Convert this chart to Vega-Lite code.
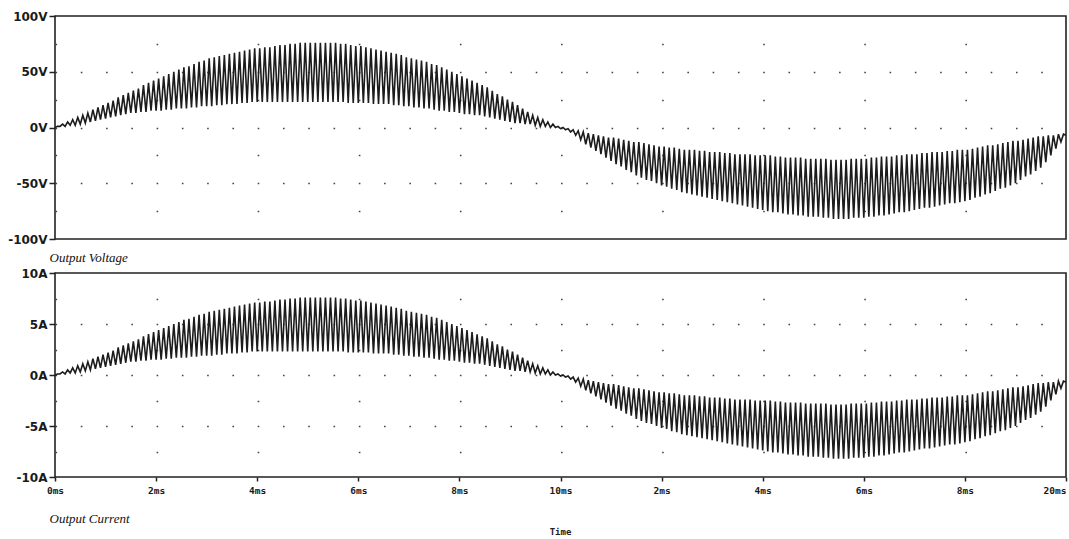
{
  "$schema": "https://vega.github.io/schema/vega-lite/v6.json",
  "background": "white",
  "padding": {"left": 6, "top": 9, "right": 2, "bottom": 0},
  "spacing": 1,
  "config": {
    "view": {"stroke": "#222", "strokeWidth": 1.6},
    "axis": {
      "labelFont": "DejaVu Sans",
      "labelFontWeight": "bold",
      "labelColor": "#1a1a1a",
      "tickColor": "#222",
      "tickWidth": 1.5
    }
  },
  "data": {"values": [
    {"t":0,"v":0,"i":0},{"t":0.05,"v":1,"i":0.1},{"t":0.1,"v":1,"i":0.1},{"t":0.15,"v":3,"i":0.3},{"t":0.2,"v":1,"i":0.1},{"t":0.25,"v":5,"i":0.5},{"t":0.3,"v":2,"i":0.2},{"t":0.35,"v":7,"i":0.7},{"t":0.4,"v":2,"i":0.2},{"t":0.45,"v":9,"i":0.9},
    {"t":0.5,"v":3,"i":0.3},{"t":0.55,"v":11,"i":1.1},{"t":0.6,"v":4,"i":0.4},{"t":0.65,"v":13,"i":1.3},{"t":0.7,"v":5,"i":0.5},{"t":0.75,"v":16,"i":1.6},{"t":0.8,"v":6,"i":0.6},{"t":0.85,"v":18,"i":1.8},{"t":0.9,"v":7,"i":0.7},{"t":0.95,"v":20,"i":2.0},
    {"t":1.0,"v":8,"i":0.8},{"t":1.05,"v":22,"i":2.2},{"t":1.1,"v":9,"i":0.9},{"t":1.15,"v":24,"i":2.4},{"t":1.2,"v":10,"i":1.0},{"t":1.25,"v":27,"i":2.7},{"t":1.3,"v":11,"i":1.1},{"t":1.35,"v":29,"i":2.9},{"t":1.4,"v":12,"i":1.2},{"t":1.45,"v":31,"i":3.1},
    {"t":1.5,"v":13,"i":1.3},{"t":1.55,"v":33,"i":3.3},{"t":1.6,"v":13,"i":1.3},{"t":1.65,"v":35,"i":3.5},{"t":1.7,"v":14,"i":1.4},{"t":1.75,"v":38,"i":3.8},{"t":1.8,"v":14,"i":1.4},{"t":1.85,"v":40,"i":4.0},{"t":1.9,"v":15,"i":1.5},{"t":1.95,"v":42,"i":4.2},
    {"t":2.0,"v":15,"i":1.5},{"t":2.05,"v":44,"i":4.4},{"t":2.1,"v":15,"i":1.5},{"t":2.15,"v":46,"i":4.6},{"t":2.2,"v":16,"i":1.6},{"t":2.25,"v":48,"i":4.8},{"t":2.3,"v":16,"i":1.6},{"t":2.35,"v":50,"i":5.0},{"t":2.4,"v":17,"i":1.7},{"t":2.45,"v":52,"i":5.2},
    {"t":2.5,"v":17,"i":1.7},{"t":2.55,"v":54,"i":5.4},{"t":2.6,"v":17,"i":1.7},{"t":2.65,"v":55,"i":5.5},{"t":2.7,"v":18,"i":1.8},{"t":2.75,"v":57,"i":5.7},{"t":2.8,"v":18,"i":1.8},{"t":2.85,"v":59,"i":5.9},{"t":2.9,"v":19,"i":1.9},{"t":2.95,"v":60,"i":6.0},
    {"t":3.0,"v":19,"i":1.9},{"t":3.05,"v":62,"i":6.2},{"t":3.1,"v":19,"i":1.9},{"t":3.15,"v":63,"i":6.3},{"t":3.2,"v":20,"i":2.0},{"t":3.25,"v":64,"i":6.4},{"t":3.3,"v":20,"i":2.0},{"t":3.35,"v":65,"i":6.5},{"t":3.4,"v":21,"i":2.1},{"t":3.45,"v":66,"i":6.6},
    {"t":3.5,"v":21,"i":2.1},{"t":3.55,"v":67,"i":6.7},{"t":3.6,"v":21,"i":2.1},{"t":3.65,"v":68,"i":6.8},{"t":3.7,"v":22,"i":2.2},{"t":3.75,"v":69,"i":6.9},{"t":3.8,"v":22,"i":2.2},{"t":3.85,"v":70,"i":7.0},{"t":3.9,"v":23,"i":2.3},{"t":3.95,"v":71,"i":7.1},
    {"t":4.0,"v":23,"i":2.3},{"t":4.05,"v":71,"i":7.1},{"t":4.1,"v":23,"i":2.3},{"t":4.15,"v":72,"i":7.2},{"t":4.2,"v":23,"i":2.3},{"t":4.25,"v":72,"i":7.2},{"t":4.3,"v":23,"i":2.3},{"t":4.35,"v":73,"i":7.3},{"t":4.4,"v":23,"i":2.3},{"t":4.45,"v":74,"i":7.4},
    {"t":4.5,"v":23,"i":2.3},{"t":4.55,"v":74,"i":7.4},{"t":4.6,"v":23,"i":2.3},{"t":4.65,"v":75,"i":7.5},{"t":4.7,"v":23,"i":2.3},{"t":4.75,"v":75,"i":7.5},{"t":4.8,"v":23,"i":2.3},{"t":4.85,"v":76,"i":7.6},{"t":4.9,"v":23,"i":2.3},{"t":4.95,"v":76,"i":7.6},
    {"t":5.0,"v":23,"i":2.3},{"t":5.05,"v":76,"i":7.6},{"t":5.1,"v":23,"i":2.3},{"t":5.15,"v":76,"i":7.6},{"t":5.2,"v":23,"i":2.3},{"t":5.25,"v":76,"i":7.6},{"t":5.3,"v":23,"i":2.3},{"t":5.35,"v":76,"i":7.6},{"t":5.4,"v":23,"i":2.3},{"t":5.45,"v":76,"i":7.6},
    {"t":5.5,"v":23,"i":2.3},{"t":5.55,"v":76,"i":7.6},{"t":5.6,"v":23,"i":2.3},{"t":5.65,"v":75,"i":7.5},{"t":5.7,"v":23,"i":2.3},{"t":5.75,"v":75,"i":7.5},{"t":5.8,"v":22,"i":2.2},{"t":5.85,"v":74,"i":7.4},{"t":5.9,"v":22,"i":2.2},{"t":5.95,"v":73,"i":7.3},
    {"t":6.0,"v":22,"i":2.2},{"t":6.05,"v":73,"i":7.3},{"t":6.1,"v":22,"i":2.2},{"t":6.15,"v":72,"i":7.2},{"t":6.2,"v":22,"i":2.2},{"t":6.25,"v":71,"i":7.1},{"t":6.3,"v":21,"i":2.1},{"t":6.35,"v":70,"i":7.0},{"t":6.4,"v":21,"i":2.1},{"t":6.45,"v":69,"i":6.9},
    {"t":6.5,"v":21,"i":2.1},{"t":6.55,"v":68,"i":6.8},{"t":6.6,"v":21,"i":2.1},{"t":6.65,"v":67,"i":6.7},{"t":6.7,"v":20,"i":2.0},{"t":6.75,"v":66,"i":6.6},{"t":6.8,"v":20,"i":2.0},{"t":6.85,"v":65,"i":6.5},{"t":6.9,"v":19,"i":1.9},{"t":6.95,"v":63,"i":6.3},
    {"t":7.0,"v":19,"i":1.9},{"t":7.05,"v":62,"i":6.2},{"t":7.1,"v":18,"i":1.8},{"t":7.15,"v":61,"i":6.1},{"t":7.2,"v":18,"i":1.8},{"t":7.25,"v":60,"i":6.0},{"t":7.3,"v":17,"i":1.7},{"t":7.35,"v":59,"i":5.9},{"t":7.4,"v":17,"i":1.7},{"t":7.45,"v":57,"i":5.7},
    {"t":7.5,"v":16,"i":1.6},{"t":7.55,"v":56,"i":5.6},{"t":7.6,"v":15,"i":1.5},{"t":7.65,"v":54,"i":5.4},{"t":7.7,"v":15,"i":1.5},{"t":7.75,"v":52,"i":5.2},{"t":7.8,"v":14,"i":1.4},{"t":7.85,"v":50,"i":5.0},{"t":7.9,"v":14,"i":1.4},{"t":7.95,"v":48,"i":4.8},
    {"t":8.0,"v":13,"i":1.3},{"t":8.05,"v":46,"i":4.6},{"t":8.1,"v":12,"i":1.2},{"t":8.15,"v":44,"i":4.4},{"t":8.2,"v":12,"i":1.2},{"t":8.25,"v":42,"i":4.2},{"t":8.3,"v":11,"i":1.1},{"t":8.35,"v":40,"i":4.0},{"t":8.4,"v":11,"i":1.1},{"t":8.45,"v":38,"i":3.8},
    {"t":8.5,"v":10,"i":1.0},{"t":8.55,"v":36,"i":3.6},{"t":8.6,"v":9,"i":0.9},{"t":8.65,"v":33,"i":3.3},{"t":8.7,"v":8,"i":0.8},{"t":8.75,"v":30,"i":3.0},{"t":8.8,"v":7,"i":0.7},{"t":8.85,"v":28,"i":2.8},{"t":8.9,"v":6,"i":0.6},{"t":8.95,"v":25,"i":2.5},
    {"t":9.0,"v":5,"i":0.5},{"t":9.05,"v":23,"i":2.3},{"t":9.1,"v":4,"i":0.4},{"t":9.15,"v":20,"i":2.0},{"t":9.2,"v":4,"i":0.4},{"t":9.25,"v":17,"i":1.7},{"t":9.3,"v":3,"i":0.3},{"t":9.35,"v":14,"i":1.4},{"t":9.4,"v":3,"i":0.3},{"t":9.45,"v":11,"i":1.1},
    {"t":9.5,"v":2,"i":0.2},{"t":9.55,"v":9,"i":0.9},{"t":9.6,"v":1,"i":0.1},{"t":9.65,"v":7,"i":0.7},{"t":9.7,"v":1,"i":0.1},{"t":9.75,"v":5,"i":0.5},{"t":9.8,"v":0,"i":0.0},{"t":9.85,"v":3,"i":0.3},{"t":9.9,"v":0,"i":0.0},{"t":9.95,"v":1,"i":0.1},
    {"t":10.0,"v":-1,"i":-0.1},{"t":10.05,"v":0,"i":0.0},{"t":10.1,"v":-2,"i":-0.2},{"t":10.15,"v":-1,"i":-0.1},{"t":10.2,"v":-4,"i":-0.4},{"t":10.25,"v":-2,"i":-0.2},{"t":10.3,"v":-7,"i":-0.7},{"t":10.35,"v":-3,"i":-0.3},{"t":10.4,"v":-11,"i":-1.1},{"t":10.45,"v":-4,"i":-0.4},
    {"t":10.5,"v":-15,"i":-1.5},{"t":10.55,"v":-5,"i":-0.5},{"t":10.6,"v":-18,"i":-1.8},{"t":10.65,"v":-6,"i":-0.6},{"t":10.7,"v":-21,"i":-2.1},{"t":10.75,"v":-7,"i":-0.7},{"t":10.8,"v":-24,"i":-2.4},{"t":10.85,"v":-8,"i":-0.8},{"t":10.9,"v":-27,"i":-2.7},{"t":10.95,"v":-9,"i":-0.9},
    {"t":11.0,"v":-30,"i":-3.0},{"t":11.05,"v":-9,"i":-0.9},{"t":11.1,"v":-33,"i":-3.3},{"t":11.15,"v":-10,"i":-1.0},{"t":11.2,"v":-35,"i":-3.5},{"t":11.25,"v":-11,"i":-1.1},{"t":11.3,"v":-38,"i":-3.8},{"t":11.35,"v":-12,"i":-1.2},{"t":11.4,"v":-40,"i":-4.0},{"t":11.45,"v":-13,"i":-1.3},
    {"t":11.5,"v":-43,"i":-4.3},{"t":11.55,"v":-13,"i":-1.3},{"t":11.6,"v":-45,"i":-4.5},{"t":11.65,"v":-14,"i":-1.4},{"t":11.7,"v":-47,"i":-4.7},{"t":11.75,"v":-15,"i":-1.5},{"t":11.8,"v":-48,"i":-4.8},{"t":11.85,"v":-16,"i":-1.6},{"t":11.9,"v":-50,"i":-5.0},{"t":11.95,"v":-17,"i":-1.7},
    {"t":12.0,"v":-52,"i":-5.2},{"t":12.05,"v":-17,"i":-1.7},{"t":12.1,"v":-53,"i":-5.3},{"t":12.15,"v":-18,"i":-1.8},{"t":12.2,"v":-55,"i":-5.5},{"t":12.25,"v":-18,"i":-1.8},{"t":12.3,"v":-56,"i":-5.6},{"t":12.35,"v":-19,"i":-1.9},{"t":12.4,"v":-58,"i":-5.8},{"t":12.45,"v":-20,"i":-2.0},
    {"t":12.5,"v":-59,"i":-5.9},{"t":12.55,"v":-20,"i":-2.0},{"t":12.6,"v":-60,"i":-6.0},{"t":12.65,"v":-20,"i":-2.0},{"t":12.7,"v":-61,"i":-6.1},{"t":12.75,"v":-21,"i":-2.1},{"t":12.8,"v":-62,"i":-6.2},{"t":12.85,"v":-21,"i":-2.1},{"t":12.9,"v":-63,"i":-6.3},{"t":12.95,"v":-22,"i":-2.2},
    {"t":13.0,"v":-64,"i":-6.4},{"t":13.05,"v":-22,"i":-2.2},{"t":13.1,"v":-65,"i":-6.5},{"t":13.15,"v":-22,"i":-2.2},{"t":13.2,"v":-66,"i":-6.6},{"t":13.25,"v":-23,"i":-2.3},{"t":13.3,"v":-67,"i":-6.7},{"t":13.35,"v":-23,"i":-2.3},{"t":13.4,"v":-68,"i":-6.8},{"t":13.45,"v":-24,"i":-2.4},
    {"t":13.5,"v":-69,"i":-6.9},{"t":13.55,"v":-24,"i":-2.4},{"t":13.6,"v":-70,"i":-7.0},{"t":13.65,"v":-24,"i":-2.4},{"t":13.7,"v":-71,"i":-7.1},{"t":13.75,"v":-24,"i":-2.4},{"t":13.8,"v":-72,"i":-7.2},{"t":13.85,"v":-25,"i":-2.5},{"t":13.9,"v":-73,"i":-7.3},{"t":13.95,"v":-25,"i":-2.5},
    {"t":14.0,"v":-74,"i":-7.4},{"t":14.05,"v":-25,"i":-2.5},{"t":14.1,"v":-75,"i":-7.5},{"t":14.15,"v":-25,"i":-2.5},{"t":14.2,"v":-76,"i":-7.6},{"t":14.25,"v":-26,"i":-2.6},{"t":14.3,"v":-76,"i":-7.6},{"t":14.35,"v":-26,"i":-2.6},{"t":14.4,"v":-77,"i":-7.7},{"t":14.45,"v":-27,"i":-2.7},
    {"t":14.5,"v":-78,"i":-7.8},{"t":14.55,"v":-27,"i":-2.7},{"t":14.6,"v":-78,"i":-7.8},{"t":14.65,"v":-27,"i":-2.7},{"t":14.7,"v":-79,"i":-7.9},{"t":14.75,"v":-27,"i":-2.7},{"t":14.8,"v":-79,"i":-7.9},{"t":14.85,"v":-28,"i":-2.8},{"t":14.9,"v":-80,"i":-8.0},{"t":14.95,"v":-28,"i":-2.8},
    {"t":15.0,"v":-80,"i":-8.0},{"t":15.05,"v":-28,"i":-2.8},{"t":15.1,"v":-80,"i":-8.0},{"t":15.15,"v":-28,"i":-2.8},{"t":15.2,"v":-81,"i":-8.1},{"t":15.25,"v":-28,"i":-2.8},{"t":15.3,"v":-81,"i":-8.1},{"t":15.35,"v":-29,"i":-2.9},{"t":15.4,"v":-82,"i":-8.2},{"t":15.45,"v":-29,"i":-2.9},
    {"t":15.5,"v":-82,"i":-8.2},{"t":15.55,"v":-29,"i":-2.9},{"t":15.6,"v":-82,"i":-8.2},{"t":15.65,"v":-29,"i":-2.9},{"t":15.7,"v":-82,"i":-8.2},{"t":15.75,"v":-28,"i":-2.8},{"t":15.8,"v":-81,"i":-8.1},{"t":15.85,"v":-28,"i":-2.8},{"t":15.9,"v":-81,"i":-8.1},{"t":15.95,"v":-28,"i":-2.8},
    {"t":16.0,"v":-81,"i":-8.1},{"t":16.05,"v":-28,"i":-2.8},{"t":16.1,"v":-80,"i":-8.0},{"t":16.15,"v":-27,"i":-2.7},{"t":16.2,"v":-80,"i":-8.0},{"t":16.25,"v":-27,"i":-2.7},{"t":16.3,"v":-79,"i":-7.9},{"t":16.35,"v":-26,"i":-2.6},{"t":16.4,"v":-79,"i":-7.9},{"t":16.45,"v":-26,"i":-2.6},
    {"t":16.5,"v":-78,"i":-7.8},{"t":16.55,"v":-26,"i":-2.6},{"t":16.6,"v":-77,"i":-7.7},{"t":16.65,"v":-25,"i":-2.5},{"t":16.7,"v":-76,"i":-7.6},{"t":16.75,"v":-25,"i":-2.5},{"t":16.8,"v":-76,"i":-7.6},{"t":16.85,"v":-24,"i":-2.4},{"t":16.9,"v":-75,"i":-7.5},{"t":16.95,"v":-24,"i":-2.4},
    {"t":17.0,"v":-74,"i":-7.4},{"t":17.05,"v":-24,"i":-2.4},{"t":17.1,"v":-73,"i":-7.3},{"t":17.15,"v":-23,"i":-2.3},{"t":17.2,"v":-72,"i":-7.2},{"t":17.25,"v":-23,"i":-2.3},{"t":17.3,"v":-72,"i":-7.2},{"t":17.35,"v":-22,"i":-2.2},{"t":17.4,"v":-71,"i":-7.1},{"t":17.45,"v":-22,"i":-2.2},
    {"t":17.5,"v":-70,"i":-7.0},{"t":17.55,"v":-22,"i":-2.2},{"t":17.6,"v":-69,"i":-6.9},{"t":17.65,"v":-21,"i":-2.1},{"t":17.7,"v":-68,"i":-6.8},{"t":17.75,"v":-21,"i":-2.1},{"t":17.8,"v":-68,"i":-6.8},{"t":17.85,"v":-20,"i":-2.0},{"t":17.9,"v":-67,"i":-6.7},{"t":17.95,"v":-20,"i":-2.0},
    {"t":18.0,"v":-66,"i":-6.6},{"t":18.05,"v":-20,"i":-2.0},{"t":18.1,"v":-65,"i":-6.5},{"t":18.15,"v":-19,"i":-1.9},{"t":18.2,"v":-63,"i":-6.3},{"t":18.25,"v":-18,"i":-1.8},{"t":18.3,"v":-62,"i":-6.2},{"t":18.35,"v":-17,"i":-1.7},{"t":18.4,"v":-60,"i":-6.0},{"t":18.45,"v":-16,"i":-1.6},
    {"t":18.5,"v":-59,"i":-5.9},{"t":18.55,"v":-16,"i":-1.6},{"t":18.6,"v":-57,"i":-5.7},{"t":18.65,"v":-15,"i":-1.5},{"t":18.7,"v":-55,"i":-5.5},{"t":18.75,"v":-14,"i":-1.4},{"t":18.8,"v":-54,"i":-5.4},{"t":18.85,"v":-13,"i":-1.3},{"t":18.9,"v":-52,"i":-5.2},{"t":18.95,"v":-12,"i":-1.2},
    {"t":19.0,"v":-50,"i":-5.0},{"t":19.05,"v":-12,"i":-1.2},{"t":19.1,"v":-47,"i":-4.7},{"t":19.15,"v":-11,"i":-1.1},{"t":19.2,"v":-44,"i":-4.4},{"t":19.25,"v":-10,"i":-1.0},{"t":19.3,"v":-42,"i":-4.2},{"t":19.35,"v":-9,"i":-0.9},{"t":19.4,"v":-39,"i":-3.9},{"t":19.45,"v":-8,"i":-0.8},
    {"t":19.5,"v":-36,"i":-3.6},{"t":19.55,"v":-8,"i":-0.8},{"t":19.6,"v":-31,"i":-3.1},{"t":19.65,"v":-7,"i":-0.7},{"t":19.7,"v":-25,"i":-2.5},{"t":19.75,"v":-7,"i":-0.7},{"t":19.8,"v":-19,"i":-1.9},{"t":19.85,"v":-6,"i":-0.6},{"t":19.9,"v":-13,"i":-1.3},{"t":19.95,"v":-6,"i":-0.6},
    {"t":20.0,"v":-7,"i":-0.7}
  ]},
  "vconcat": [
    {
      "width": 1011,
      "height": 223,
      "mark": {"type": "line", "color": "#1c1c1c", "strokeWidth": 1.6},
      "encoding": {
        "x": {
          "field": "t", "type": "quantitative",
          "scale": {"domain": [0, 20], "nice": false},
          "axis": {
            "title": "Output Voltage", "labels": false, "ticks": false, "domain": false, "grid": false,
            "titleFont": "Liberation Serif", "titleFontStyle": "italic", "titleFontWeight": "normal",
            "titleFontSize": 13, "titleColor": "#111", "titleAnchor": "start", "titleAlign": "left",
            "titleBaseline": "middle", "titleX": -6, "titleY": 18
          }
        },
        "y": {
          "field": "v", "type": "quantitative",
          "scale": {"domain": [-100, 100], "nice": false, "zero": false},
          "axis": {
            "title": null,
            "values": [-100, -75, -50, -25, 0, 25, 50, 75, 100],
            "labelExpr": "datum.value % 50 == 0 ? datum.value + 'V' : ''",
            "labelFontSize": 12, "labelPadding": 2, "tickSize": 6, "domain": false,
            "tickOpacity": {"condition": {"test": "datum.value % 50 == 0", "value": 1}, "value": 0},
            "grid": true, "gridColor": "#444", "gridWidth": 1.6,
            "gridOpacity": {"condition": {"test": "abs(datum.value) == 100", "value": 0}, "value": 1},
            "gridDash": {"condition": {"test": "datum.value % 50 == 0", "value": [1.6, 23.675]}, "value": [1.6, 99.5]}
          }
        }
      }
    },
    {
      "width": 1011,
      "height": 204,
      "title": {"text": "Time", "orient": "bottom", "anchor": "middle", "frame": "group", "font": "DejaVu Sans Mono", "fontWeight": "bold", "fontSize": 9, "color": "#222", "offset": 3},
      "mark": {"type": "line", "color": "#1c1c1c", "strokeWidth": 1.6},
      "encoding": {
        "x": {
          "field": "t", "type": "quantitative",
          "scale": {"domain": [0, 20], "nice": false},
          "axis": {
            "title": "Output Current",
            "values": [0, 2, 4, 6, 8, 10, 12, 14, 16, 18, 20],
            "labelExpr": "datum.value <= 10 || datum.value == 20 ? datum.value + 'ms' : (datum.value - 10) + 'ms'",
            "labelFont": "DejaVu Sans Mono", "labelFontSize": 9.5, "labelPadding": 4,
            "labelAlign": {"condition": {"test": "datum.value == 20", "value": "right"}, "value": "center"},
            "tickSize": 4, "domain": false, "grid": false,
            "titleFont": "Liberation Serif", "titleFontStyle": "italic", "titleFontWeight": "normal",
            "titleFontSize": 13, "titleColor": "#111", "titleAnchor": "start", "titleAlign": "left",
            "titleBaseline": "middle", "titleX": -6, "titleY": 41
          }
        },
        "y": {
          "field": "i", "type": "quantitative",
          "scale": {"domain": [-10, 10], "nice": false, "zero": false},
          "axis": {
            "title": null,
            "values": [-10, -7.5, -5, -2.5, 0, 2.5, 5, 7.5, 10],
            "labelExpr": "datum.value % 5 == 0 ? datum.value + 'A' : ''",
            "labelFontSize": 12, "labelPadding": 2, "tickSize": 6, "domain": false,
            "tickOpacity": {"condition": {"test": "datum.value % 5 == 0", "value": 1}, "value": 0},
            "grid": true, "gridColor": "#444", "gridWidth": 1.6,
            "gridOpacity": {"condition": {"test": "abs(datum.value) == 10", "value": 0}, "value": 1},
            "gridDash": {"condition": {"test": "datum.value % 5 == 0", "value": [1.6, 23.675]}, "value": [1.6, 99.5]}
          }
        }
      }
    }
  ]
}
